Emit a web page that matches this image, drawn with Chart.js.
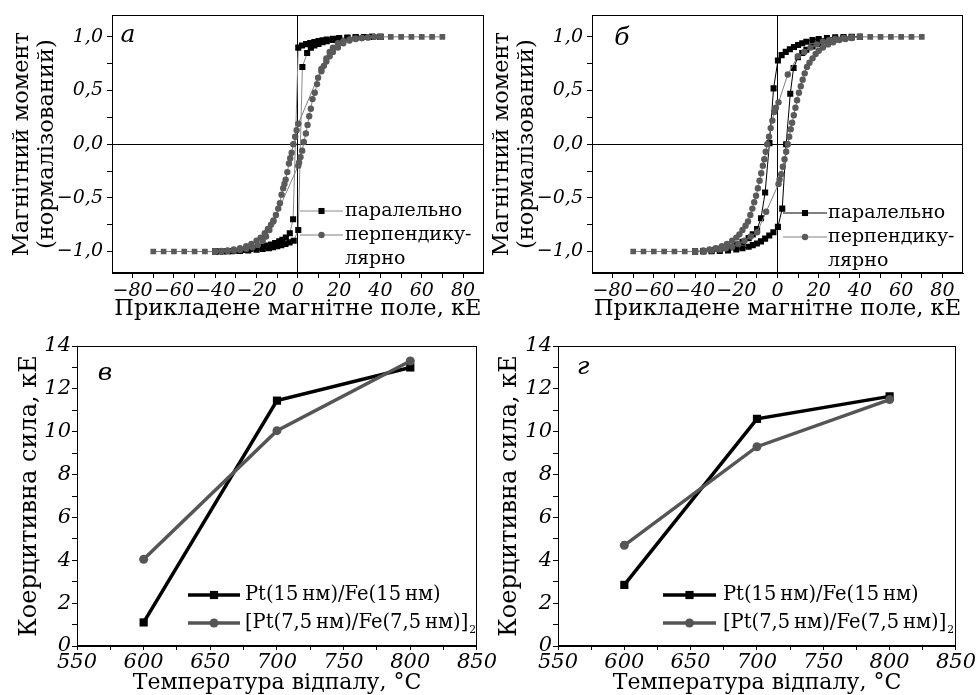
<!DOCTYPE html>
<html><head><meta charset="utf-8">
<script src="https://cdn.jsdelivr.net/npm/chart.js@4.4.0/dist/chart.umd.min.js"></script>
<style>
html,body{margin:0;padding:0;background:#fff;}
body{width:976px;height:695px;position:relative;overflow:hidden;}
canvas{position:absolute;}
</style></head>
<body>
<canvas id="cA" width="488" height="325" style="left:0;top:0;width:488px;height:325px"></canvas>
<canvas id="cB" width="488" height="325" style="left:488px;top:0;width:488px;height:325px"></canvas>
<canvas id="cC" width="497" height="365" style="left:0;top:330px;width:497px;height:365px"></canvas>
<canvas id="cD" width="488" height="365" style="left:488px;top:330px;width:488px;height:365px"></canvas>
<script>
// ---------------- tick values / labels ----------------
const fieldTicks = [-80, -70, -60, -50, -40, -30, -20, -10, 0, 10, 20, 30, 40, 50, 60, 70, 80];
const fieldLabels = [-80, -60, -40, -20, 0, 20, 40, 60, 80];
const momentTicks = [-1.0, -0.75, -0.5, -0.25, 0.0, 0.25, 0.5, 0.75, 1.0];
const momentLabels = [-1.0, -0.5, 0.0, 0.5, 1.0];
const tempTicks = [550, 575, 600, 625, 650, 675, 700, 725, 750, 775, 800, 825, 850];
const tempLabels = [550, 600, 650, 700, 750, 800, 850];
const coerTicks = [0, 1, 2, 3, 4, 5, 6, 7, 8, 9, 10, 11, 12, 13, 14];
const coerLabels = [0, 2, 4, 6, 8, 10, 12, 14];

// ---------------- panel а (hysteresis) ----------------
const tailLeftH = [-70, -65, -60, -55, -50, -45, -40];
const tailLeftM = [-1, -1, -1, -1, -1, -1, -1];
const tailRightH = [40, 45, 50, 55, 60, 65, 70];
const tailRightM = [1, 1, 1, 1, 1, 1, 1];

const aParDownH = [40, 36, 32, 28, 24, 20, 17, 14, 12, 10, 8, 6, 4, 2, 0.2, -2.3, -3.9, -5.8, -7.5, -9, -11, -13, -15, -17, -20, -23, -26, -30, -34, -38, -40];
const aParDownM = [1, 1, 0.998, 0.996, 0.993, 0.988, 0.983, 0.975, 0.968, 0.96, 0.952, 0.943, 0.932, 0.92, 0.9, -0.7, -0.83, -0.87, -0.89, -0.905, -0.92, -0.935, -0.945, -0.955, -0.967, -0.977, -0.985, -0.992, -0.996, -0.999, -1];
const aParUpH = [-40, -36, -32, -28, -24, -20, -17, -14, -12, -10, -8, -6, -4, -2, 0.2, 2.2, 4.5, 6.3, 8, 10, 12, 14, 17, 20, 24, 28, 32, 36, 40];
const aParUpM = [-1, -1, -0.998, -0.995, -0.99, -0.983, -0.977, -0.968, -0.96, -0.95, -0.94, -0.93, -0.915, -0.9, -0.8, 0.72, 0.85, 0.9, 0.92, 0.935, 0.95, 0.96, 0.972, 0.983, 0.99, 0.995, 0.998, 1, 1];

const aPerpDownH = [40, 37, 34, 31, 28, 25, 22, 19.4, 17, 15.4, 13.8, 11.4, 0.2, -0.6, -1.3, -2.2, -3, -3.7, -4.3, -5.1, -5.9, -6.5, -7.1, -7.9, -8.7, -9.5, -10.6, -11.8, -13, -14.5, -16, -18, -20, -22.5, -25, -28, -31, -34, -37, -40];
const aPerpDownM = [1, 1, 0.995, 0.99, 0.985, 0.975, 0.96, 0.94, 0.9, 0.86, 0.8, 0.7, 0.19, 0.13, 0.07, 0, -0.08, -0.13, -0.18, -0.26, -0.33, -0.37, -0.41, -0.47, -0.55, -0.6, -0.66, -0.71, -0.75, -0.79, -0.83, -0.87, -0.9, -0.93, -0.95, -0.97, -0.98, -0.99, -0.995, -1];
const aPerpUpH = [-40, -37, -34, -31, -28, -25, -22, -19.4, -17, -15.4, -13.8, -11.9, 0.2, 0.6, 1.3, 2.1, 2.9, 3.9, 4.7, 5.5, 6.3, 7.1, 8.2, 9.3, 9.8, 11.4, 12.6, 13.8, 15.4, 17, 19.4, 22, 25, 28, 31, 34, 37, 40];
const aPerpUpM = [-1, -1, -0.995, -0.99, -0.985, -0.975, -0.96, -0.94, -0.9, -0.86, -0.8, -0.72, -0.2, -0.17, -0.12, -0.06, 0.02, 0.1, 0.18, 0.26, 0.33, 0.42, 0.48, 0.56, 0.62, 0.68, 0.73, 0.77, 0.82, 0.86, 0.9, 0.94, 0.965, 0.98, 0.99, 0.995, 1, 1];

// ---------------- panel б (hysteresis) ----------------
const bParDownH = [40, 36, 32, 28, 24, 20, 17, 14, 12, 10, 8, 6, 4, 2, 0.2, -1.9, -3.9, -6, -8, -9.9, -12, -14, -17, -20, -24, -28, -32, -36, -40];
const bParDownM = [1, 1, 0.998, 0.995, 0.99, 0.98, 0.97, 0.955, 0.94, 0.925, 0.905, 0.885, 0.86, 0.83, 0.78, 0.52, 0.01, -0.45, -0.69, -0.79, -0.84, -0.875, -0.91, -0.935, -0.96, -0.975, -0.987, -0.995, -1];
const bParUpH = [-40, -36, -32, -28, -24, -20, -17, -14, -12, -10, -8, -6, -4, -2, 0.2, 2.3, 4.2, 6.2, 7.8, 9.9, 12, 14, 17, 20, 24, 28, 32, 36, 40];
const bParUpM = [-1, -1, -0.998, -0.995, -0.99, -0.98, -0.97, -0.955, -0.94, -0.925, -0.905, -0.88, -0.85, -0.82, -0.77, -0.6, 0, 0.47, 0.71, 0.81, 0.85, 0.88, 0.91, 0.935, 0.96, 0.975, 0.987, 0.995, 1];

const bPerpDownH = [40, 36, 32, 28, 25, 22, 19, 16, 13, 9.9, 5, 0.5, -0.8, -1.6, -2.5, -3.3, -4.1, -5, -5.7, -6.4, -7.1, -7.9, -8.7, -9.5, -10.4, -11.3, -12.2, -13.2, -14.3, -15.5, -17, -18.5, -20, -22, -24.5, -27, -30, -33, -36, -40];
const bPerpDownM = [1, 0.997, 0.99, 0.98, 0.97, 0.955, 0.93, 0.9, 0.86, 0.82, 0.65, 0.39, 0.34, 0.3, 0.22, 0.15, 0.07, 0, -0.07, -0.14, -0.2, -0.27, -0.34, -0.41, -0.48, -0.54, -0.6, -0.66, -0.72, -0.76, -0.8, -0.84, -0.87, -0.9, -0.93, -0.95, -0.97, -0.98, -0.99, -1];
const bPerpUpH = [-40, -36, -32, -28, -25, -22, -19, -16, -13, -9.9, -5.5, 0.5, 1, 1.8, 2.6, 3.4, 4.2, 5, 5.7, 6.4, 7.1, 7.9, 8.7, 9.5, 10.4, 11.3, 12.2, 13.2, 14.3, 15.5, 17, 18.5, 20, 22, 24.5, 27, 30, 33, 36, 40];
const bPerpUpM = [-1, -0.997, -0.99, -0.98, -0.97, -0.955, -0.93, -0.9, -0.86, -0.82, -0.63, -0.37, -0.33, -0.28, -0.21, -0.14, -0.07, 0, 0.07, 0.14, 0.2, 0.27, 0.34, 0.41, 0.48, 0.54, 0.6, 0.66, 0.72, 0.76, 0.8, 0.84, 0.87, 0.9, 0.93, 0.95, 0.97, 0.98, 0.99, 1];

// ---------------- panels в, г (coercivity) ----------------
const annealTemps = [600, 700, 800];
const coerV_single = [1.1, 11.45, 13.0];
const coerV_multi = [4.05, 10.05, 13.3];
const coerG_single = [2.85, 10.6, 11.65];
const coerG_multi = [4.7, 9.3, 11.5];

const seriesNames = ['паралельно', 'перпендикулярно'];
const sampleNames = ['Pt(15\u2009нм)/Fe(15\u2009нм)', '[Pt(7,5\u2009нм)/Fe(7,5\u2009нм)]'];

// ---------------- helpers ----------------
const SERIF = '"DejaVu Serif", "Liberation Serif", serif';
const BLACK = '#000000';
const GRAY = '#5a5a5a';
function pts(h, m) { return h.map((v, i) => ({x: v, y: m[i]})); }
function fmtNum(v, dec) {
  let s = Math.abs(v).toFixed(dec).replace('.', ',');
  return (v < -1e-9 ? '\u2212' : '') + s;
}
function has(arr, v) { return arr.some(a => Math.abs(a - v) < 1e-9); }

function drawMarker(ctx, style, x, y, r, fill) {
  ctx.fillStyle = fill;
  ctx.beginPath();
  if (style === 'rect') {
    const s = Math.SQRT1_2 * r;
    ctx.rect(x - s, y - s, 2 * s, 2 * s);
  } else {
    ctx.arc(x, y, r, 0, Math.PI * 2);
  }
  ctx.fill();
}

const framePlugin = {
  id: 'frame',
  afterDraw(chart) {
    const {ctx, chartArea: a} = chart;
    ctx.save();
    ctx.strokeStyle = '#000';
    ctx.lineWidth = 1;
    ctx.strokeRect(Math.round(a.left) + 0.5, Math.round(a.top) + 0.5, Math.round(a.right - a.left) - 1, Math.round(a.bottom - a.top) - 1);
    ctx.restore();
  }
};

function labelPlugin(text, x, y, size) {
  return {
    id: 'panelLabel',
    afterDraw(chart) {
      const ctx = chart.ctx;
      ctx.save();
      ctx.font = 'italic ' + size + 'px ' + SERIF;
      ctx.fillStyle = '#000';
      ctx.textBaseline = 'middle';
      ctx.textAlign = 'center';
      ctx.fillText(text, x, y);
      ctx.restore();
    }
  };
}

function legendPlugin(items, fontSize) {
  return {
    id: 'customLegend',
    afterDatasetsDraw(chart) {
      const ctx = chart.ctx;
      ctx.save();
      items.forEach(it => {
        const ds = chart.data.datasets[it.ds];
        ctx.strokeStyle = it.lineColor || ds.borderColor;
        ctx.lineWidth = it.lineWidth || ds.borderWidth;
        ctx.beginPath();
        ctx.moveTo(it.x1, it.y);
        ctx.lineTo(it.x2, it.y);
        ctx.stroke();
        drawMarker(ctx, ds.pointStyle, (it.x1 + it.x2) / 2, it.y, it.r || ds.pointRadius, ds.pointBackgroundColor);
        ctx.fillStyle = '#000';
        ctx.font = fontSize + 'px ' + SERIF;
        ctx.textBaseline = 'middle';
        ctx.textAlign = 'left';
        it.lines.forEach((t, k) => ctx.fillText(t, it.tx, it.y + k * it.lh));
        if (it.sub) {
          const w = ctx.measureText(it.lines[it.lines.length - 1]).width;
          ctx.font = (fontSize * 0.55) + 'px ' + SERIF;
          ctx.fillText(it.sub, it.tx + w + 1, it.y + 7);
        }
      });
      ctx.restore();
    }
  };
}

function loopChart(id, cfg) {
  return new Chart(document.getElementById(id), {
    type: 'scatter',
    data: {
      datasets: [
        {label: 'tailL', data: pts(tailLeftH, tailLeftM), showLine: true, borderColor: '#7a7a7a', borderWidth: 1,
         pointStyle: 'rect', pointRadius: 4, pointBackgroundColor: GRAY, pointBorderWidth: 0, order: 0},
        {label: 'tailR', data: pts(tailRightH, tailRightM), showLine: true, borderColor: '#7a7a7a', borderWidth: 1,
         pointStyle: 'rect', pointRadius: 4, pointBackgroundColor: GRAY, pointBorderWidth: 0, order: 0},
        {label: seriesNames[1], data: cfg.perp, showLine: true, borderColor: '#808080', borderWidth: 1,
         pointStyle: 'circle', pointRadius: 3.2, pointBackgroundColor: GRAY, pointBorderWidth: 0, order: 1},
        {label: seriesNames[0], data: cfg.par, showLine: true, borderColor: cfg.parLine, borderWidth: 1,
         pointStyle: 'rect', pointRadius: 4.3, pointBackgroundColor: BLACK, pointBorderWidth: 0, order: 2}
      ]
    },
    options: {
      responsive: false, animation: false, events: [],
      layout: {padding: {left: 0, top: 12, right: cfg.padR, bottom: 0}},
      plugins: {legend: {display: false}, tooltip: {enabled: false}},
      scales: {
        x: {
          type: 'linear', min: -90, max: 90,
          afterBuildTicks: s => { s.ticks = fieldTicks.map(v => ({value: v})); },
          afterFit: s => { s.height = 52; },
          ticks: {autoSkip: false, maxRotation: 0, padding: 2, color: '#000',
                  font: {family: SERIF, size: 19, style: 'italic'},
                  callback: v => has(fieldLabels, v) ? fmtNum(v, 0) : ''},
          grid: {drawOnChartArea: true, color: c => (c.tick && c.tick.value === 0) ? '#000' : 'rgba(0,0,0,0)',
                 tickColor: '#000', tickLength: 5, lineWidth: 1},
          border: {color: '#000', width: 1},
          title: {display: true, text: 'Прикладене магнітне поле, кЕ', color: '#000',
                  font: {family: SERIF, size: 22.5, lineHeight: '25px'}, padding: {top: 0, bottom: 3.5}}
        },
        y: {
          type: 'linear', min: -1.2, max: 1.2,
          afterBuildTicks: s => { s.ticks = momentTicks.map(v => ({value: v})); },
          afterFit: s => { s.width = cfg.yW; },
          ticks: {autoSkip: false, padding: 4, color: '#000',
                  font: {family: SERIF, size: 19, style: 'italic'},
                  callback: v => has(momentLabels, v) ? fmtNum(v, 1) : ''},
          grid: {drawOnChartArea: true, color: c => (c.tick && Math.abs(c.tick.value) < 1e-9) ? '#000' : 'rgba(0,0,0,0)',
                 tickColor: '#000', tickLength: 5, lineWidth: 1},
          border: {color: '#000', width: 1},
          title: {display: true, text: ['Магнітний момент', '(нормалізований)'], color: '#000',
                  font: {family: SERIF, size: 22.5, lineHeight: '25px'}, padding: {top: cfg.titlePad, bottom: 0}}
        }
      }
    },
    plugins: [framePlugin, labelPlugin(cfg.letter, cfg.letterX, cfg.letterY, 25), legendPlugin(cfg.legend, 19)]
  });
}

function coerChart(id, cfg) {
  return new Chart(document.getElementById(id), {
    type: 'scatter',
    data: {
      datasets: [
        {label: sampleNames[1], data: pts(annealTemps, cfg.multi), showLine: true, borderColor: '#555555', borderWidth: 3.5,
         pointStyle: 'circle', pointRadius: 4.5, pointBackgroundColor: '#555555', pointBorderWidth: 0, order: 1},
        {label: sampleNames[0], data: pts(annealTemps, cfg.single), showLine: true, borderColor: BLACK, borderWidth: 3.5,
         pointStyle: 'rect', pointRadius: 5.8, pointBackgroundColor: BLACK, pointBorderWidth: 0, order: 2}
      ]
    },
    options: {
      responsive: false, animation: false, events: [],
      layout: {padding: {left: 0, top: 16, right: cfg.padR, bottom: 0}},
      plugins: {legend: {display: false}, tooltip: {enabled: false}},
      scales: {
        x: {
          type: 'linear', min: 550, max: 850,
          afterBuildTicks: s => { s.ticks = tempTicks.map(v => ({value: v})); },
          afterFit: s => { s.height = 49; },
          ticks: {autoSkip: false, maxRotation: 0, padding: 0, color: '#000',
                  font: {family: SERIF, size: 21, style: 'italic'},
                  callback: v => has(tempLabels, v) ? String(v) : ''},
          grid: {drawOnChartArea: false, tickColor: '#000', tickLength: 4, lineWidth: 1},
          border: {color: '#000', width: 1},
          title: {display: true, text: 'Температура відпалу, °C', color: '#000',
                  font: {family: SERIF, size: 22, lineHeight: '24px'}, padding: {top: 0, bottom: 0}}
        },
        y: {
          type: 'linear', min: 0, max: 14,
          afterBuildTicks: s => { s.ticks = coerTicks.map(v => ({value: v})); },
          afterFit: s => { s.width = cfg.yW; },
          ticks: {autoSkip: false, padding: 1, color: '#000',
                  font: {family: SERIF, size: 21, style: 'italic'},
                  callback: v => has(coerLabels, v) ? String(v) : ''},
          grid: {drawOnChartArea: false, tickColor: '#000', tickLength: 5, lineWidth: 1},
          border: {color: '#000', width: 1},
          title: {display: true, text: 'Коерцитивна сила, кЕ', color: '#000',
                  font: {family: SERIF, size: 24, lineHeight: '24px'}, padding: {top: cfg.titlePad, bottom: 0}}
        }
      }
    },
    plugins: [framePlugin, labelPlugin(cfg.letter, cfg.letterX, cfg.letterY, 25), legendPlugin(cfg.legend, 19.5)]
  });
}

// ---------------- build ----------------
loopChart('cA', {
  par: pts(aParDownH.concat(aParUpH), aParDownM.concat(aParUpM)),
  perp: pts(aPerpDownH.concat(aPerpUpH), aPerpDownM.concat(aPerpUpM)),
  parLine: '#8a8a8a', padR: 3, yW: 112, titlePad: 9.5,
  letter: 'а', letterX: 128, letterY: 35,
  legend: [
    {ds: 3, x1: 300, x2: 343, y: 211, tx: 345, lh: 24, lines: ['паралельно'], lineColor: '#8a8a8a'},
    {ds: 2, x1: 300, x2: 343, y: 235, tx: 345, lh: 24, lines: ['перпендику-', 'лярно']}
  ]
});
loopChart('cB', {
  par: pts(bParDownH.concat(bParUpH), bParDownM.concat(bParUpM)),
  perp: pts(bPerpDownH.concat(bPerpUpH), bPerpDownM.concat(bPerpUpM)),
  parLine: '#000000', padR: 13, yW: 104, titlePad: 1.5,
  letter: 'б', letterX: 134, letterY: 38,
  legend: [
    {ds: 3, x1: 295, x2: 339, y: 213, tx: 340, lh: 24, lines: ['паралельно']},
    {ds: 2, x1: 295, x2: 339, y: 237, tx: 340, lh: 24, lines: ['перпендику-', 'лярно']}
  ]
});
coerChart('cC', {
  single: coerV_single, multi: coerV_multi, padR: 20, yW: 77, titlePad: 18,
  letter: 'в', letterX: 105, letterY: 43,
  legend: [
    {ds: 1, x1: 188, x2: 240, y: 265, tx: 245, lh: 0, lines: [sampleNames[0]]},
    {ds: 0, x1: 188, x2: 240, y: 293, tx: 245, lh: 0, lines: [sampleNames[1]], sub: '2'}
  ]
});
coerChart('cD', {
  single: coerG_single, multi: coerG_multi, padR: 20, yW: 70, titlePad: 10,
  letter: 'г', letterX: 95, letterY: 37,
  legend: [
    {ds: 1, x1: 175, x2: 228, y: 265, tx: 235, lh: 0, lines: [sampleNames[0]]},
    {ds: 0, x1: 175, x2: 228, y: 293, tx: 235, lh: 0, lines: [sampleNames[1]], sub: '2'}
  ]
});
</script>
</body></html>
